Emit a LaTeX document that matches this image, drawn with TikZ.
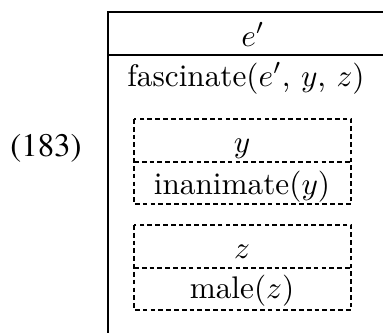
\documentclass[tikz,border=0pt]{standalone}
\usepackage[T1,TU]{fontenc}
\usepackage{tikz}
\newcommand{\exnumfont}{\fontencoding{T1}\fontfamily{ptm}\selectfont}

\begin{document}
\begin{tikzpicture}[x=0.32pt, y=-0.32pt,
    drsline/.style={line width=0.5pt},
    subdrs/.style={line width=0.5pt, dash pattern=on 1.5pt off 1pt},
    cond/.style={anchor=base, inner sep=0pt}]
    \useasboundingbox (0,0) rectangle (383,332);
    \clip (0,0) rectangle (383,332);

    % main box, runs off the right and the bottom
    \draw[drsline] (400,12) -- (108,12) -- (108,345);
    \draw[drsline] (108,55) -- (400,55);

    \node (num) [cond] at (46,156) {\exnumfont\fontsize{10.5}{12}\selectfont (183)};
    \node (eref) [cond] at (253,46) {$e'$};
    \node (fasc) [cond] at (246,86) {fascinate($e'$, $y$, $z$)};

    % sub-box for y
    \draw[subdrs] (134,119) rectangle (351,204);
    \draw[subdrs] (134,162) -- (351,162);
    \node (yref) [cond] at (242,152) {$y$};
    \node (inan) [cond] at (242,194) {inanimate($y$)};

    % sub-box for z
    \draw[subdrs] (134,225) rectangle (351,310);
    \draw[subdrs] (134,268) -- (351,268);
    \node (zref) [cond] at (242,258) {$z$};
    \node (male) [cond] at (242,298) {male($z$)};
\end{tikzpicture}
\end{document}
